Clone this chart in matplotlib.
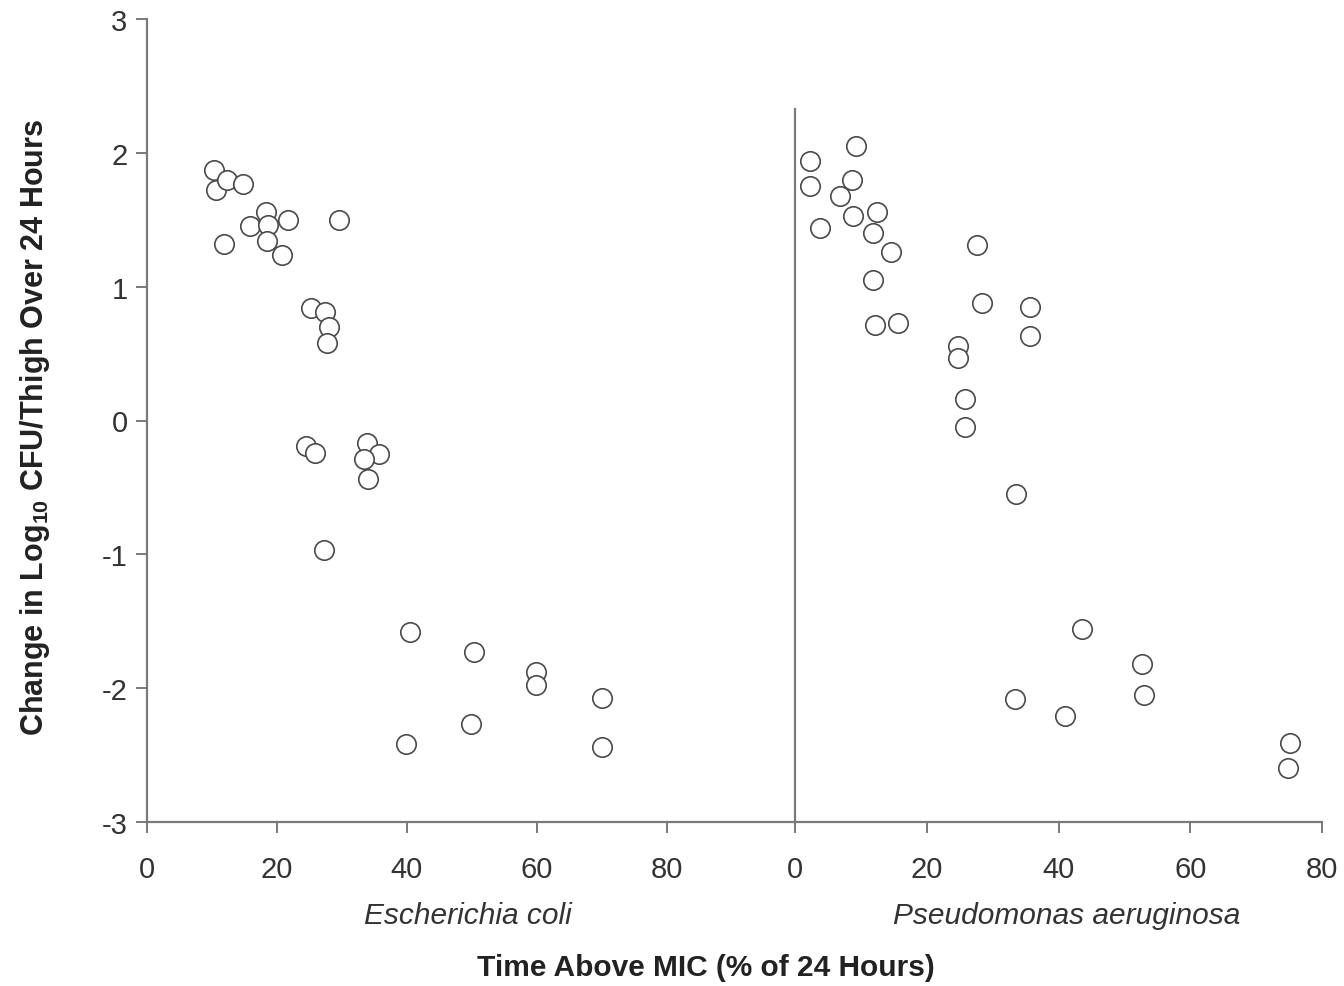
import matplotlib
matplotlib.use("Agg")
import matplotlib.pyplot as plt

plt.rcParams['font.family'] = ['Liberation Sans', 'DejaVu Sans']

# Escherichia coli: time above MIC (%) vs change in log10 CFU/thigh
ecoli_t = [10.3, 10.6, 12.3, 14.8, 11.8, 15.8, 18.3, 18.6, 18.5, 21.7, 20.8, 29.5,
           25.2, 27.4, 28.0, 27.7, 24.5, 25.8, 33.8, 35.7, 33.4, 34.0, 27.2,
           40.5, 39.8, 50.3, 49.8, 59.8, 59.8, 70.0, 70.0]
ecoli_cfu = [1.87, 1.72, 1.80, 1.77, 1.32, 1.45, 1.56, 1.46, 1.34, 1.50, 1.24, 1.50,
             0.84, 0.81, 0.70, 0.58, -0.19, -0.24, -0.17, -0.25, -0.29, -0.44, -0.97,
             -1.58, -2.42, -1.73, -2.27, -1.88, -1.98, -2.07, -2.44]

# Pseudomonas aeruginosa
pa_t = [2.3, 2.3, 3.8, 9.3, 8.7, 6.8, 8.8, 12.4, 11.8, 14.6, 11.8, 12.1, 15.6,
        27.6, 28.4, 24.7, 24.7, 25.8, 25.8, 35.7, 35.7, 33.5, 33.4, 43.6, 41.0,
        52.7, 53.0, 75.1, 74.9]
pa_cfu = [1.94, 1.75, 1.44, 2.05, 1.80, 1.68, 1.53, 1.56, 1.40, 1.26, 1.05, 0.71, 0.73,
          1.31, 0.88, 0.56, 0.47, 0.16, -0.05, 0.85, 0.63, -0.55, -2.08, -1.56, -2.21,
          -1.82, -2.05, -2.41, -2.60]

x_ticks = [0, 20, 40, 60, 80]
y_ticks = [-3, -2, -1, 0, 1, 2, 3]

W, H = 1344, 987
fig = plt.figure(figsize=(W / 100, H / 100), dpi=100)

line_col = '#7a7a7a'
text_col = '#333333'
bottom = (H - 823) / H
height = (823 - 20) / H

ax1 = fig.add_axes([147 / W, bottom, (795 - 147) / W, height])
ax2 = fig.add_axes([795 / W, bottom, (1322 - 795) / W, height])

marker_kw = dict(marker='o', linestyle='none', markersize=14, markerfacecolor='white',
                 markeredgecolor='#4a4a4a', markeredgewidth=1.2, clip_on=False)
ax1.plot(ecoli_t, ecoli_cfu, **marker_kw)
ax2.plot(pa_t, pa_cfu, **marker_kw)

ax1.set_xlim(0, 99.7)
ax2.set_xlim(0, 80)
for ax in (ax1, ax2):
    ax.set_ylim(-3, 3)
    ax.set_xticks(x_ticks)
    ax.set_xticklabels([str(t) for t in x_ticks])
    ax.spines['top'].set_visible(False)
    ax.spines['right'].set_visible(False)
    ax.spines['bottom'].set_color(line_col)
    ax.spines['bottom'].set_linewidth(1.6)
    ax.tick_params(axis='x', direction='out', length=8, width=1.4, color=line_col,
                   labelsize=21, labelcolor=text_col, pad=16)

ax1.spines['left'].set_color(line_col)
ax1.spines['left'].set_linewidth(1.6)
ax1.set_yticks(y_ticks)
ax1.set_yticklabels([str(t) for t in y_ticks])
ax1.tick_params(axis='y', direction='out', length=8, width=1.4, color=line_col,
                labelsize=21, labelcolor=text_col, pad=6)

# divider line for second panel
ax2.spines['left'].set_color(line_col)
ax2.spines['left'].set_linewidth(1.6)
ax2.spines['left'].set_bounds(-3, 2.33)
ax2.set_yticks([])
ax2.tick_params(axis='y', left=False, labelleft=False)
ax2.patch.set_alpha(0)
ax1.patch.set_alpha(0)

ax1.text(0.495, -0.1155, 'Escherichia coli', transform=ax1.transAxes, ha='center', va='center',
         fontsize=21.5, style='italic', color=text_col)
ax2.text(0.515, -0.1155, 'Pseudomonas aeruginosa', transform=ax2.transAxes, ha='center',
         va='center', fontsize=21.5, style='italic', color=text_col)

fig.text(706 / W, 1 - 968 / H, 'Time Above MIC (% of 24 Hours)', ha='center', va='center',
         fontsize=21.5, fontweight='bold', color='#222222')
fig.text(35 / W, 1 - 427 / H, r'Change in Log$_{\mathregular{10}}$ CFU/Thigh Over 24 Hours',
         ha='center', va='center', rotation=90, fontsize=22, fontweight='bold',
         color='#222222')

fig.savefig('out.png', dpi=100)
